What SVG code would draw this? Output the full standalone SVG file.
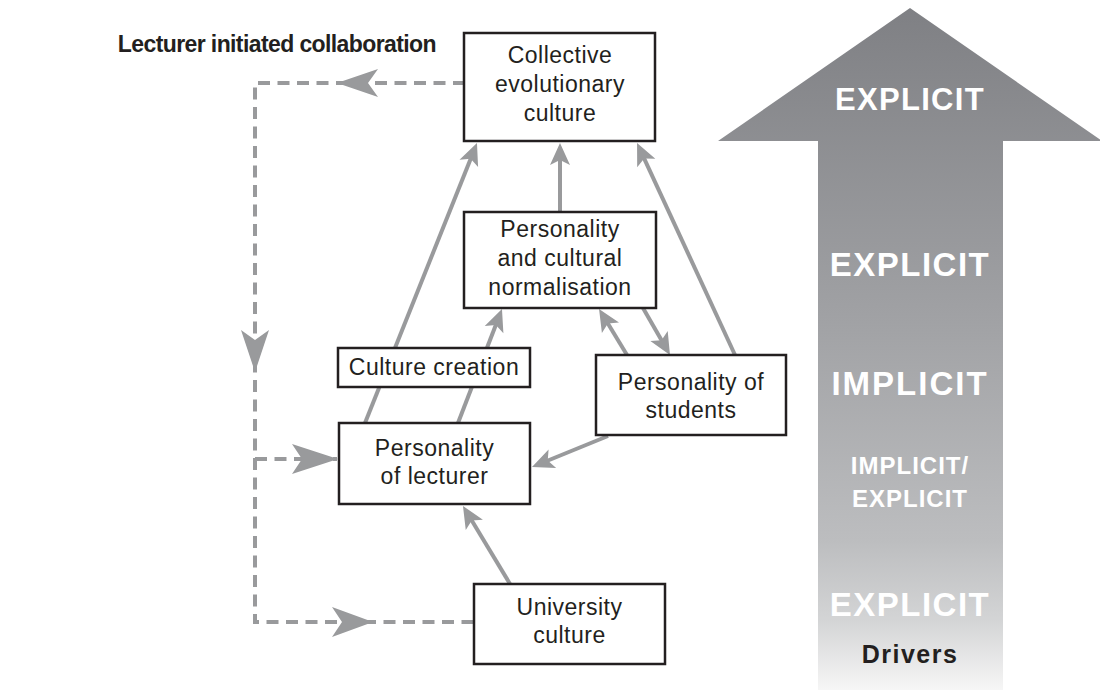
<svg xmlns="http://www.w3.org/2000/svg" width="1100" height="691" viewBox="0 0 1100 691">
<defs>
<linearGradient id="bigGrad" gradientUnits="userSpaceOnUse" x1="0" y1="8" x2="0" y2="690">
<stop offset="0" stop-color="#7f8084"/>
<stop offset="0.45" stop-color="#a0a1a4"/>
<stop offset="0.78" stop-color="#bcbdbf"/>
<stop offset="0.9" stop-color="#d4d5d6"/>
<stop offset="1" stop-color="#f6f6f6"/>
</linearGradient>
<marker id="ah" markerUnits="userSpaceOnUse" markerWidth="40" markerHeight="40" viewBox="-20 -20 40 40" refX="0" refY="0" orient="auto" overflow="visible">
<path d="M8,0 L-14,-10 L-9,0 L-14,10 Z" fill="#999a9c"/>
</marker>
<style>
.box{fill:#ffffff;stroke:#231f20;stroke-width:2.5}
.lbl{font-family:"Liberation Sans",Arial,sans-serif;font-size:23px;fill:#231f20;text-anchor:middle;letter-spacing:0.5px}
.conn{stroke:#999a9c;stroke-width:4;fill:none;marker-end:url(#ah)}
.dash{stroke:#999a9c;stroke-width:4;fill:none;stroke-dasharray:12 7.5}
.dhead{fill:#999a9c}
.big{font-family:"Liberation Sans",Arial,sans-serif;font-weight:bold;fill:#ffffff;text-anchor:middle}
</style>
</defs>
<g id="drivers-arrow">
<polygon points="910,8 1102,141 1003,141 1003,690 818,690 818,141 718,141" fill="url(#bigGrad)"/>
<text class="big" x="910" y="110" font-size="31" letter-spacing="1.3">EXPLICIT</text>
<text class="big" x="910" y="276" font-size="33" letter-spacing="1.5">EXPLICIT</text>
<text class="big" x="910" y="395" font-size="33" letter-spacing="2">IMPLICIT</text>
<text class="big" x="910" y="474" font-size="24" letter-spacing="1">IMPLICIT/</text>
<text class="big" x="910" y="507" font-size="24" letter-spacing="1">EXPLICIT</text>
<text class="big" x="910" y="616" font-size="33" letter-spacing="1.5">EXPLICIT</text>
<text class="big" x="910" y="663" font-size="25" letter-spacing="1.5" style="fill:#231f20">Drivers</text>
</g>
<text id="title" x="436" y="52" font-family="Liberation Sans, Arial, sans-serif" font-weight="bold" font-size="23" letter-spacing="-0.6" fill="#231f20" text-anchor="end">Lecturer initiated collaboration</text>
<g id="connectors">
<path class="dash" d="M465,83 H255 V622 H474"/>
<path class="dash" d="M255,459 H337"/>
<polygon class="dhead" points="337,83 378,69 368,83 378,97"/>
<polygon class="dhead" points="255,372 241,330 255,340 269,330"/>
<polygon class="dhead" points="338,459 292,444 302,459 292,474"/>
<polygon class="dhead" points="373,622 332,607 342,622 332,637"/>
<line class="conn" x1="365" y1="423" x2="474" y2="150.4"/>
<line class="conn" x1="458" y1="423" x2="499.1" y2="316.5"/>
<line class="conn" x1="560" y1="212" x2="560" y2="151"/>
<line class="conn" x1="627" y1="355" x2="603.2" y2="315.8"/>
<line class="conn" x1="643" y1="308" x2="666" y2="348.1"/>
<line class="conn" x1="735" y1="355" x2="640.4" y2="150.3"/>
<line class="conn" x1="608" y1="436" x2="539.4" y2="464"/>
<line class="conn" x1="510" y1="584" x2="467.1" y2="512.8"/>
</g>
<g id="collective">
<rect class="box" x="464" y="33" width="191" height="108"/>
<text class="lbl" x="560" y="63">Collective</text>
<text class="lbl" x="560" y="92">evolutionary</text>
<text class="lbl" x="560" y="121">culture</text>
</g>
<g id="normalisation">
<rect class="box" x="464" y="212" width="192" height="96"/>
<text class="lbl" x="560" y="237">Personality</text>
<text class="lbl" x="560" y="266">and cultural</text>
<text class="lbl" x="560" y="295">normalisation</text>
</g>
<g id="culture-creation">
<rect class="box" x="338" y="348" width="192" height="39"/>
<text class="lbl" x="434" y="375">Culture creation</text>
</g>
<g id="students">
<rect class="box" x="596" y="355" width="190" height="80"/>
<text class="lbl" x="691" y="390">Personality of</text>
<text class="lbl" x="691" y="418">students</text>
</g>
<g id="lecturer">
<rect class="box" x="339" y="423" width="191" height="81"/>
<text class="lbl" x="434.5" y="456">Personality</text>
<text class="lbl" x="434.5" y="484">of lecturer</text>
</g>
<g id="university">
<rect class="box" x="474" y="584" width="191" height="80"/>
<text class="lbl" x="569.5" y="615">University</text>
<text class="lbl" x="569.5" y="643">culture</text>
</g>
</svg>
